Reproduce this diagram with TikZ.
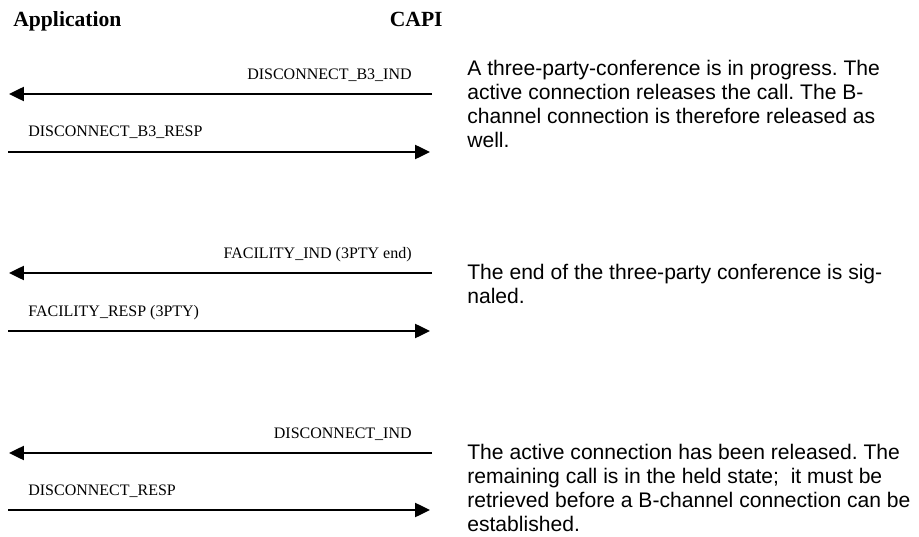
\documentclass[tikz,border=0pt]{standalone}
\usepackage{fontspec}
\setmainfont{Liberation Serif}
\newfontfamily\arialfont{Liberation Sans}
\usetikzlibrary{arrows.meta}
\tikzset{>=latex}
\frenchspacing
\tikzstyle{msgline}=[draw=black,line width=0.05cm,-{Triangle[length=3mm,width=2.8mm]}]
\tikzstyle{msglabel}=[font=\fontsize{9.1}{11}\selectfont,inner sep=0]
\tikzstyle{heading}=[font=\bfseries\fontsize{12.3}{14}\selectfont,inner sep=0]
\tikzstyle{remark}=[font=\arialfont\fontsize{12}{13.6}\selectfont,align=left,inner sep=0,anchor=base west]

\begin{document}
\begin{tikzpicture}
  \useasboundingbox (0,0) rectangle (18.38,-10.74);
  \node[heading,anchor=base west] (app) at (0.26,-0.54) {Application};
  \node[heading,anchor=base east] (capi) at (8.86,-0.54) {CAPI};

  % disconnect b3
  \coordinate (app1) at (0.18,-1.88);
  \coordinate (capi1) at (8.64,-1.88);
  \coordinate (app2) at (0.16,-3.04);
  \coordinate (capi2) at (8.60,-3.04);
  \node[msglabel,anchor=base east] (ind1) at (8.24,-1.59) {DISCONNECT\_B3\_IND};
  \node[msglabel,anchor=base west] (resp1) at (0.56,-2.74) {DISCONNECT\_B3\_RESP};
  \draw[msgline] (capi1) -- (app1);
  \draw[msgline] (app2) -- (capi2);
  \node[remark] (note1) at (9.34,-2.94) {A three-party-conference is in progress. The\\active connection releases the call. The B-\\channel connection is therefore released as\\well.};

  % facility 3pty
  \coordinate (app3) at (0.18,-5.46);
  \coordinate (capi3) at (8.64,-5.46);
  \coordinate (app4) at (0.16,-6.62);
  \coordinate (capi4) at (8.60,-6.62);
  \node[msglabel,anchor=base east] (ind2) at (8.24,-5.17) {FACILITY\_IND (3PTY end)};
  \node[msglabel,anchor=base west] (resp2) at (0.56,-6.32) {FACILITY\_RESP (3PTY)};
  \draw[msgline] (capi3) -- (app3);
  \draw[msgline] (app4) -- (capi4);
  \node[remark] (note2) at (9.34,-6.06) {The end of the three-party conference is sig-\\naled.};

  % disconnect
  \coordinate (app5) at (0.18,-9.06);
  \coordinate (capi5) at (8.64,-9.06);
  \coordinate (app6) at (0.16,-10.20);
  \coordinate (capi6) at (8.60,-10.20);
  \node[msglabel,anchor=base east] (ind3) at (8.24,-8.77) {DISCONNECT\_IND};
  \node[msglabel,anchor=base west] (resp3) at (0.56,-9.90) {DISCONNECT\_RESP};
  \draw[msgline] (capi5) -- (app5);
  \draw[msgline] (app6) -- (capi6);
  \node[remark] (note3) at (9.34,-10.62) {The active connection has been released. The\\remaining call is in the held state; \ it must be\\retrieved before a B-channel connection can be\\established.};
\end{tikzpicture}
\end{document}
